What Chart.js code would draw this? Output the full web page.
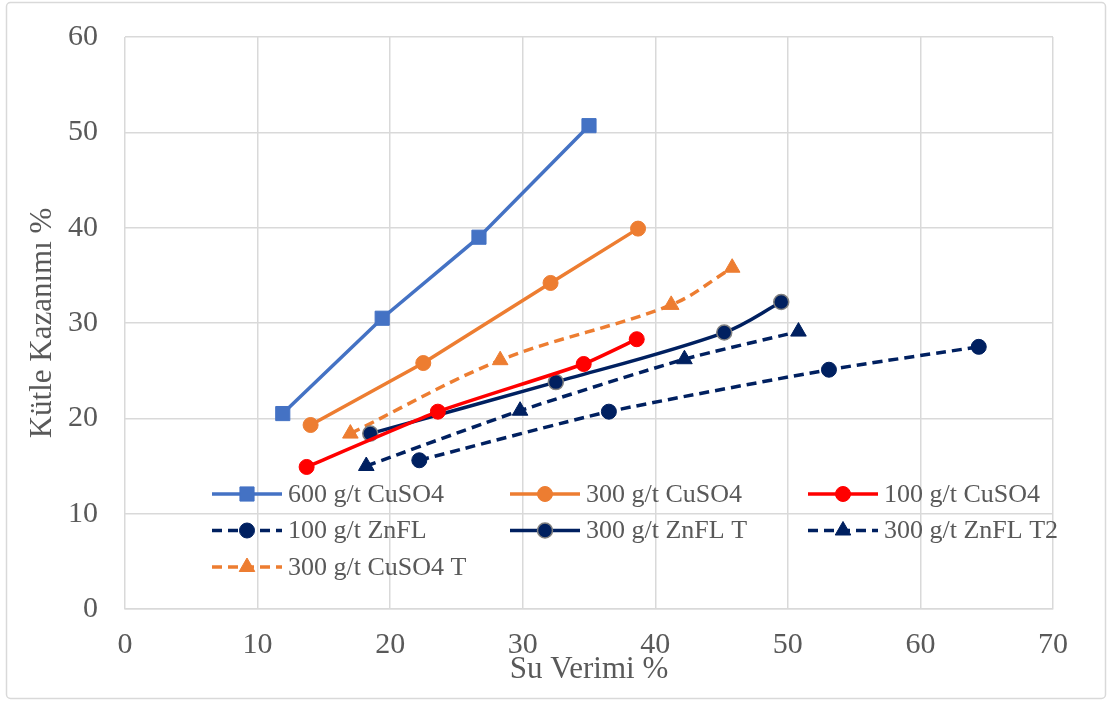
<!DOCTYPE html>
<html>
<head>
<meta charset="utf-8">
<script src="https://cdn.jsdelivr.net/npm/chart.js@4.4.1/dist/chart.umd.min.js"></script>
<style>
  html, body { margin: 0; padding: 0; background: #fff; }
  #wrap { width: 1111px; height: 702px; }
</style>
</head>
<body>
<div id="wrap"><canvas id="chart" width="1111" height="702"></canvas></div>
<script>
// values (Su Verimi %, Kütle Kazanımı %)
const seriesNames = ['600 g/t CuSO4', '300 g/t CuSO4', '100 g/t CuSO4',
  '100 g/t ZnFL', '300 g/t ZnFL T', '300 g/t ZnFL T2', '300 g/t CuSO4 T'];

const xCu600 = [11.9, 19.4, 26.7, 35.0];
const yCu600 = [20.5, 30.5, 39.0, 50.7];
const xCu300 = [14.0, 22.5, 32.1, 38.7];
const yCu300 = [19.3, 25.8, 34.2, 39.9];
const xCu100 = [13.7, 23.6, 34.6, 38.6];
const yCu100 = [14.9, 20.7, 25.7, 28.3];
const xZn100 = [22.2, 36.5, 53.1, 64.4];
const yZn100 = [15.6, 20.7, 25.1, 27.5];
const xZnT = [18.5, 32.5, 45.2, 49.5];
const yZnT = [18.4, 23.8, 29.0, 32.2];
const xZnT2 = [18.2, 29.8, 42.2, 50.8];
const yZnT2 = [15.0, 20.8, 26.2, 29.1];
const xCuT = [17.0, 28.3, 41.2, 45.8];
const yCuT = [18.4, 26.1, 31.9, 35.8];

const xTicks = [0, 10, 20, 30, 40, 50, 60, 70];
const yTicks = [0, 10, 20, 30, 40, 50, 60];

const BLUE = '#4472C4', ORANGE = '#ED7D31', RED = '#FF0000', NAVY = '#002060';
const GREY_TXT = '#595959', GRID = '#D9D9D9';
const SERIF = '"Liberation Serif", "Times New Roman", serif';

const pts = (xs, ys) => xs.map((x, i) => ({ x: x, y: ys[i] }));

const mk = (label, data, color, style, radius, dashed, tension, ring) => ({
  label: label,
  data: data,
  showLine: true,
  borderColor: color,
  backgroundColor: color,
  borderWidth: 3.5,
  borderDash: dashed ? [10, 6] : [],
  tension: tension,
  pointStyle: style,
  pointRadius: radius,
  pointHoverRadius: radius,
  pointBackgroundColor: color,
  pointBorderColor: ring || color,
  pointBorderWidth: ring ? 1.5 : 1
});

const datasets = [
  mk(seriesNames[0], pts(xCu600, yCu600), BLUE, 'rect', 10, false, 0),
  mk(seriesNames[1], pts(xCu300, yCu300), ORANGE, 'circle', 7.5, false, 0),
  mk(seriesNames[2], pts(xCu100, yCu100), RED, 'circle', 7.5, false, 0.15),
  mk(seriesNames[3], pts(xZn100, yZn100), NAVY, 'circle', 7.5, true, 0.2),
  mk(seriesNames[4], pts(xZnT, yZnT), NAVY, 'circle', 7.5, false, 0.35, '#7F7F7F'),
  mk(seriesNames[5], pts(xZnT2, yZnT2), NAVY, 'triangle', 9, true, 0.2),
  mk(seriesNames[6], pts(xCuT, yCuT), ORANGE, 'triangle', 9, true, 0.35)
];

function drawMarker(ctx, ds, x, y) {
  const r = ds.pointRadius;
  ctx.save();
  ctx.setLineDash([]);
  ctx.fillStyle = ds.pointBackgroundColor;
  ctx.strokeStyle = ds.pointBorderColor;
  ctx.lineWidth = ds.pointBorderWidth;
  ctx.beginPath();
  if (ds.pointStyle === 'rect') {
    const s = r * Math.SQRT1_2;
    ctx.rect(x - s, y - s, 2 * s, 2 * s);
  } else if (ds.pointStyle === 'triangle') {
    ctx.moveTo(x, y - r);
    ctx.lineTo(x + r * Math.sin(Math.PI * 2 / 3), y - r * Math.cos(Math.PI * 2 / 3));
    ctx.lineTo(x + r * Math.sin(Math.PI * 4 / 3), y - r * Math.cos(Math.PI * 4 / 3));
    ctx.closePath();
  } else {
    ctx.arc(x, y, r, 0, Math.PI * 2);
  }
  ctx.fill();
  ctx.stroke();
  ctx.restore();
}

// Excel-like legend sitting inside the plot area, 3 columns
const insideLegend = {
  id: 'insideLegend',
  afterDraw(chart) {
    const ctx = chart.ctx;
    const left = 212, colStep = 298, top = 494, rowStep = 36.5, sample = 70;
    ctx.save();
    ctx.font = '26px ' + SERIF;
    ctx.textBaseline = 'middle';
    ctx.textAlign = 'left';
    chart.data.datasets.forEach((ds, i) => {
      const x = left + (i % 3) * colStep;
      const y = top + Math.floor(i / 3) * rowStep;
      ctx.strokeStyle = ds.borderColor;
      ctx.lineWidth = ds.borderWidth;
      ctx.setLineDash(ds.borderDash);
      ctx.beginPath();
      ctx.moveTo(x, y);
      ctx.lineTo(x + sample, y);
      ctx.stroke();
      drawMarker(ctx, ds, x + sample / 2, y);
      ctx.fillStyle = GREY_TXT;
      ctx.fillText(ds.label, x + sample + 6, y + 1);
    });
    ctx.restore();
  }
};

const frame = {
  id: 'frame',
  beforeDraw(chart) {
    const ctx = chart.ctx;
    ctx.save();
    ctx.fillStyle = '#fff';
    ctx.fillRect(0, 0, chart.width, chart.height);
    ctx.strokeStyle = GRID;
    ctx.lineWidth = 1.5;
    ctx.beginPath();
    ctx.roundRect(6.5, 2.5, 1099, 696, 4);
    ctx.stroke();
    ctx.restore();
  }
};

new Chart(document.getElementById('chart').getContext('2d'), {
  type: 'scatter',
  data: { datasets: datasets },
  options: {
    responsive: false,
    animation: false,
    layout: { padding: { left: 6, right: 58, top: 37, bottom: 6 } },
    plugins: {
      legend: { display: false },
      tooltip: { enabled: false }
    },
    scales: {
      x: {
        type: 'linear',
        min: 0, max: 70,
        afterBuildTicks: (s) => { s.ticks = xTicks.map(v => ({ value: v })); },
        afterFit: (s) => { s.height = 87; },
        grid: { color: GRID, lineWidth: 1.5, drawTicks: false },
        border: { color: GRID, width: 1.5 },
        ticks: { color: GREY_TXT, font: { family: SERIF, size: 30 }, padding: 18 },
        title: {
          display: true, text: 'Su Verimi %', color: GREY_TXT,
          font: { family: SERIF, size: 31 }, padding: { top: 0, bottom: 8 }
        }
      },
      y: {
        type: 'linear',
        min: 0, max: 60,
        afterBuildTicks: (s) => { s.ticks = yTicks.map(v => ({ value: v })); },
        afterFit: (s) => { s.width = 119; s.paddingTop = 0; s.paddingBottom = 0; },
        grid: { color: GRID, lineWidth: 1.5, drawTicks: false },
        border: { display: false },
        ticks: { color: GREY_TXT, font: { family: SERIF, size: 30 }, padding: 27 },
        title: {
          display: true, text: 'Kütle Kazanımı %', color: GREY_TXT,
          font: { family: SERIF, size: 31 }, padding: { top: 18, bottom: 0 }
        }
      }
    }
  },
  plugins: [frame, insideLegend]
});
</script>
</body>
</html>
